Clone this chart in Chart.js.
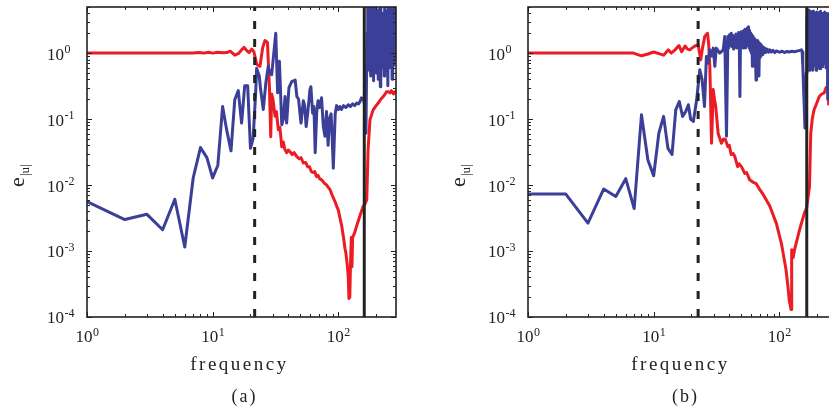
<!DOCTYPE html>
<html>
<head>
<meta charset="utf-8">
<script src="https://cdn.jsdelivr.net/npm/chart.js@4.4.1/dist/chart.umd.min.js"></script>
<style>
  html, body { margin: 0; padding: 0; background: #fff; overflow: hidden; }
  .panel { position: absolute; top: 0; width: 441px; height: 412px; }
</style>
</head>
<body>
<div class="panel" style="left:0"><canvas id="chartA" width="441" height="412"></canvas></div>
<div class="panel" style="left:441px"><canvas id="chartB" width="441" height="412"></canvas></div>
<script>
// axis limits and decade ticks
const xMin = 1, xMax = 288;
const yMin = 1e-4, yMax = 5;
const xDecades = [1, 10, 100];
const yDecades = [1e-4, 1e-3, 1e-2, 1e-1, 1];

// vertical marker lines (frequency)
const aDash = 21.6, aSolid = 161;
const bDash = 22.6, bSolid = 165.5;

// panel (a) : [frequency, e]
const aRed = [
  [1, 1.0], [3, 1.0], [5, 1.0], [7, 1.0], [7.7, 1.02], [8.5, 1.0], [9.3, 1.03], [10, 1.0],
  [11, 1.03], [12, 1.01], [13, 1.02], [13.8, 1.07], [15, 0.93], [16, 0.98], [17, 1.12],
  [17.8, 1.22], [18.6, 1.1], [19.5, 1.02], [20.5, 1.15], [21.3, 1.05], [22.4, 0.68],
  [23.8, 0.63], [25, 1.2], [26.1, 1.55], [27.3, 1.45], [28.3, 0.31], [29, 0.054],
  [29.5, 0.24], [30.2, 0.2], [31.4, 0.11], [32.2, 0.13], [33.3, 0.069], [34.3, 0.075],
  [35.5, 0.038], [36.5, 0.045], [37.5, 0.035], [38.8, 0.031], [40, 0.034], [41.3, 0.032],
  [43, 0.029], [44.5, 0.031], [46.8, 0.027], [49, 0.025], [50.5, 0.026], [52.7, 0.0216],
  [55, 0.022], [57, 0.019], [59, 0.019], [61, 0.016], [63, 0.0155], [65, 0.016],
  [67, 0.0135], [69, 0.014], [71, 0.0125], [73.7, 0.012], [76, 0.0112], [78, 0.0105],
  [80, 0.0102], [83, 0.0093], [86, 0.0085], [89, 0.0072], [92, 0.0062], [95, 0.0054],
  [97, 0.0048], [100, 0.0042], [103, 0.0032], [106.5, 0.0024], [110, 0.0016], [113, 0.0011],
  [115, 0.00093], [118, 0.0006], [120, 0.00041], [121.6, 0.00019], [123.5, 0.0002],
  [125, 0.0006], [127, 0.0016], [128.5, 0.00058], [130, 0.0016], [135, 0.0019],
  [140, 0.0024], [148.5, 0.0034], [158, 0.0048], [162, 0.005], [168.5, 0.006],
  [172.6, 0.034], [178.7, 0.098], [189.5, 0.138], [200, 0.16], [208, 0.175], [218, 0.2],
  [228, 0.22], [238, 0.245], [242, 0.26], [250, 0.26], [258, 0.25], [265, 0.27],
  [275, 0.24], [282, 0.26], [288, 0.25]
];
const aBlue = [
  [1, 0.0056], [2, 0.0030], [3, 0.0036], [4, 0.0021], [5, 0.0061], [6, 0.00115],
  [7, 0.0128], [8, 0.037], [9, 0.026], [10, 0.0128], [11, 0.020], [12, 0.155],
  [13, 0.065], [14, 0.033], [15, 0.196], [16, 0.27], [17, 0.087], [18, 0.32], [19, 0.32],
  [20, 0.036], [21, 0.051], [22, 0.25], [22.4, 0.59], [23.5, 0.45], [24, 0.3],
  [25.3, 0.14], [26.5, 0.35], [27.7, 0.63], [28.5, 0.5], [29.5, 0.47], [30.4, 0.84],
  [31.8, 2.0], [32.9, 0.25], [34, 0.75], [35.5, 0.082], [36.5, 0.1], [37.7, 0.22],
  [38.8, 0.087], [40.5, 0.3], [42.6, 0.37], [45.4, 0.39], [46.8, 0.22], [48.3, 0.2],
  [50.5, 0.087], [52.7, 0.19], [54, 0.16], [55.5, 0.077], [57.5, 0.14], [59.5, 0.28],
  [60.5, 0.31], [62.5, 0.123], [64, 0.155], [65.5, 0.031], [67.3, 0.123], [69, 0.19],
  [71, 0.15], [73.6, 0.21], [76, 0.077], [78.3, 0.055], [80.6, 0.13], [83, 0.04],
  [85, 0.1], [87.6, 0.12], [89.5, 0.05], [91.3, 0.018], [94.5, 0.12], [97, 0.16],
  [100, 0.14], [103, 0.155], [106, 0.14], [110, 0.16], [115, 0.15], [120, 0.165],
  [125, 0.155], [130, 0.17], [135, 0.16], [140, 0.175], [145, 0.17], [150, 0.19],
  [153, 0.21], [157, 0.2], [160, 0.19], [163, 0.15], [166, 0.061], [168, 0.5],
  [170, 2.0], [171.5, 6], [173, 0.9], [174.5, 4.5], [176, 0.55], [177.5, 3.2],
  [179, 0.75], [180.5, 6], [182, 0.45], [183.5, 2.6], [185, 0.9], [186.5, 5.5],
  [188, 0.6], [189.5, 3.0], [191, 0.38], [192.5, 4.2], [194, 1.0], [195.5, 2.4],
  [197, 0.7], [198.5, 6], [200, 0.5], [202, 3.5], [204, 0.85], [206, 2.8], [208, 0.4],
  [210, 4.6], [212, 0.75], [214, 3.1], [216, 0.31], [218, 5.5], [220, 0.9], [222, 2.5],
  [224, 0.6], [226, 4.0], [228, 1.1], [230, 2.9], [232, 0.45], [234, 6], [236, 0.8],
  [238, 3.3], [240, 0.55], [242, 4.4], [244, 1.0], [246, 2.7], [248, 0.32], [250, 5.2],
  [252, 0.85], [254, 3.6], [256, 0.6], [258, 4.8], [260, 1.2], [262, 2.6], [264, 0.7],
  [266, 5.5], [268, 0.4], [270, 3.0], [272, 0.95], [274, 4.3], [276, 0.65], [278, 2.8],
  [280, 1.3], [282, 5.0], [284, 0.8], [286, 3.4], [288, 1.6]
];

// panel (b) : [frequency, e]
const bRed = [
  [1, 1.0], [3, 1.0], [5, 1.0], [6.9, 1.0], [8, 0.91], [9, 0.97], [10, 1.04], [11, 0.98],
  [12, 0.93], [13.1, 1.12], [13.8, 1.0], [14.8, 1.12], [15.9, 1.3], [16.7, 1.05],
  [17.8, 1.28], [18.6, 1.15], [19.4, 1.12], [20.3, 1.2], [21.3, 1.28], [22.6, 1.33],
  [23.7, 0.79], [24.5, 1.2], [25.5, 1.79], [26.8, 2.0], [27.4, 1.4], [28, 0.63],
  [28.9, 0.043], [29.8, 0.28], [30.5, 0.2], [31.2, 0.155], [32.6, 0.061], [34.6, 0.043],
  [36, 0.05], [37.2, 0.049], [39, 0.038], [40, 0.04], [41.4, 0.029], [43, 0.03],
  [44.3, 0.027], [46.6, 0.019], [48, 0.021], [50, 0.019], [53.1, 0.015], [55, 0.0155],
  [58.1, 0.012], [62, 0.011], [65.6, 0.0105], [70, 0.0085], [74.4, 0.0072], [84, 0.0048],
  [94.9, 0.0026], [104, 0.0013], [113, 0.00053], [117, 0.0003], [120, 0.00018],
  [124, 0.00013], [125, 0.0003], [126, 0.00105], [129, 0.0008], [133, 0.0011],
  [145, 0.0021], [158, 0.0037], [165, 0.0045], [174, 0.0095], [178, 0.061], [183, 0.1],
  [189, 0.138], [200, 0.18], [208, 0.22], [218, 0.24], [228, 0.25], [236, 0.3],
  [242, 0.28], [245, 0.4], [247, 0.17], [250, 0.3], [260, 0.3], [288, 0.3]
];
const bBlue = [
  [1, 0.0073], [2, 0.0073], [3, 0.00265], [4, 0.0087], [5, 0.0067], [6, 0.0125],
  [7, 0.0044], [8, 0.116], [9, 0.024], [10, 0.0138], [11, 0.061], [12, 0.11],
  [13, 0.036], [14, 0.029], [15, 0.138], [16, 0.185], [17, 0.11], [18, 0.13],
  [18.9, 0.165], [19.7, 0.1], [20.7, 0.092], [22, 0.196], [23.3, 0.56], [24.3, 0.4],
  [25.4, 0.155], [26.3, 0.89], [27, 0.7], [28, 1.12], [29, 0.9], [29.8, 1.19],
  [30.7, 0.63], [31.5, 1.19], [33.6, 1.0], [35.8, 1.12], [36.8, 1.78], [38, 0.055],
  [39, 1.78], [39.6, 1.2], [40.2, 1.9], [40.8, 1.3], [41.5, 2.0], [42.1, 1.25],
  [42.7, 1.85], [43.3, 1.15], [43.9, 1.7], [44.5, 1.3], [45.1, 1.95], [45.7, 1.2],
  [46.3, 1.8], [46.9, 1.35], [47.5, 2.05], [48.1, 1.1], [48.6, 0.22], [49.1, 1.4],
  [49.7, 2.1], [50.3, 1.3], [50.9, 2.0], [51.5, 1.2], [52.1, 2.2], [52.7, 1.4],
  [53.3, 2.3], [53.9, 1.2], [54.5, 2.1], [55.1, 1.5], [55.7, 2.4], [56.3, 1.3],
  [56.9, 2.5], [57.5, 1.2], [58.1, 2.2], [58.7, 1.1], [59.3, 2.0], [59.9, 1.0],
  [60.5, 1.9], [61.1, 0.63], [61.7, 1.8], [62.3, 0.9], [62.9, 1.7], [63.5, 1.0],
  [64.1, 1.6], [64.7, 0.8], [65.3, 0.39], [65.9, 1.5], [66.5, 0.9], [67.1, 1.55],
  [67.7, 0.8], [68.3, 1.45], [68.9, 0.45], [69.5, 1.4], [70.1, 0.85], [70.7, 1.35],
  [71.5, 0.9], [72.3, 1.3], [73.1, 0.95], [74, 1.25], [75, 1.0], [76.5, 1.2],
  [78, 1.02], [80, 1.15], [82, 1.03], [84, 1.12], [86.5, 1.04], [89, 1.1], [92, 1.02],
  [95, 1.08], [100, 1.03], [105, 1.07], [110, 1.02], [115, 1.06], [120, 1.04],
  [126, 1.07], [132, 1.05], [140, 1.08], [146, 1.1], [150, 1.12], [152, 1.05],
  [154, 0.63], [156, 0.3], [158, 0.155], [160, 0.073], [162, 0.2], [164, 0.5],
  [166, 3.0], [168, 4.6], [169.5, 0.7], [171, 4.5], [172.5, 0.55], [174, 4.4],
  [175.5, 0.9], [177, 3.5], [178.5, 0.6], [180, 4.2], [181.5, 1.0], [183, 3.0],
  [184.5, 0.55], [186, 4.3], [187.5, 0.8], [189, 4.0], [190.5, 0.65], [192, 3.9],
  [193.5, 1.1], [195, 2.8], [196.5, 0.55], [198, 4.2], [199.5, 0.85], [201, 3.8],
  [203, 0.6], [205, 4.1], [207, 1.0], [209, 3.1], [211, 0.58], [213, 4.3], [215, 0.9],
  [217, 3.4], [219, 0.62], [221, 4.0], [223, 1.1], [225, 3.0], [227, 0.7], [229, 4.2],
  [231, 1.0], [233, 3.6], [235, 0.6], [237, 4.0], [239, 1.2], [241, 2.9], [243, 0.2],
  [245, 3.8], [247, 1.0], [249, 4.0], [252, 0.8], [256, 3.5], [260, 1.0], [265, 4.0],
  [270, 0.9], [275, 3.2], [280, 1.1], [288, 3.0]
];

const RED = '#ec1c24';
const BLUE = '#3b3f97';
const INK = '#222';
const SERIF = '"Liberation Serif", "DejaVu Serif", serif';

function mantissa(v) {
  const p = Math.floor(Math.log10(v) + 1e-9);
  return v / Math.pow(10, p);
}
function isNice(v) {
  const m = mantissa(v);
  return Math.abs(m - Math.round(m)) < 1e-6;
}
function isDecade(v) {
  return Math.abs(mantissa(v) - 1) < 1e-6;
}

// axis box, inward ticks, power-of-ten labels, titles
const frame = {
  id: 'frame',
  afterDatasetsDraw(chart, args, opts) {
    const { ctx, chartArea: a, scales: { x, y } } = chart;
    ctx.save();
    ctx.strokeStyle = INK;
    ctx.lineWidth = 1;
    ctx.beginPath();
    x.ticks.forEach(t => {
      if (!isNice(t.value)) return;
      const px = Math.round(x.getPixelForValue(t.value)) + 0.5;
      const len = isDecade(t.value) ? 5 : 3;
      ctx.moveTo(px, a.bottom); ctx.lineTo(px, a.bottom - len);
      ctx.moveTo(px, a.top); ctx.lineTo(px, a.top + len);
    });
    y.ticks.forEach(t => {
      if (!isNice(t.value)) return;
      const py = Math.round(y.getPixelForValue(t.value)) + 0.5;
      const len = isDecade(t.value) ? 5 : 3;
      ctx.moveTo(a.left, py); ctx.lineTo(a.left + len, py);
      ctx.moveTo(a.right, py); ctx.lineTo(a.right - len, py);
    });
    ctx.stroke();
    ctx.lineWidth = 1.6;
    ctx.strokeRect(a.left, a.top, a.right - a.left, a.bottom - a.top);

    ctx.fillStyle = INK;
    ctx.textBaseline = 'middle';
    ctx.textAlign = 'left';
    const big = '17px ' + SERIF;
    const small = '12px ' + SERIF;

    xDecades.forEach(v => {
      const px = x.getPixelForValue(v);
      const e = String(Math.round(Math.log10(v)));
      ctx.font = big; const w1 = ctx.measureText('10').width;
      ctx.font = small; const w2 = ctx.measureText(e).width;
      const x0 = px - (w1 + w2) / 2;
      ctx.font = big;
      ctx.fillText('10', x0, a.bottom + 21);
      ctx.font = small;
      ctx.fillText(e, x0 + w1 + 0.5, a.bottom + 16);
    });
    yDecades.forEach(v => {
      const py = y.getPixelForValue(v);
      const e = String(Math.round(Math.log10(v)));
      ctx.font = big;
      const w1 = ctx.measureText('10').width;
      ctx.fillText('10', 47, py + 2);
      ctx.font = small;
      ctx.fillText(e, 47 + w1 + 0.5, py - 3);
    });

    // y title: e with subscript |u|
    ctx.save();
    ctx.translate(19, 182);
    ctx.rotate(-Math.PI / 2);
    ctx.textBaseline = 'alphabetic';
    ctx.font = '22px ' + SERIF;
    const we = ctx.measureText('e').width;
    ctx.fillText('e', -we / 2, 5);
    ctx.font = '13px ' + SERIF;
    ctx.fillText('|u|', we / 2 + 1, 10);
    ctx.restore();

    // x title and caption
    ctx.textAlign = 'center';
    ctx.textBaseline = 'alphabetic';
    ctx.font = '19px ' + SERIF;
    ctx.letterSpacing = '2.5px';
    ctx.fillText('frequency', (a.left + a.right) / 2 - 2, 370);
    ctx.font = '18px ' + SERIF;
    ctx.letterSpacing = '2px';
    ctx.fillText(opts.caption, (a.left + a.right) / 2 + 3, 402);
    ctx.restore();
  }
};

function toPoints(pairs) {
  return pairs.map(p => ({ x: p[0], y: p[1] }));
}

function makeChart(id, red, blue, dashF, solidF, caption) {
  const ctx = document.getElementById(id).getContext('2d');
  return new Chart(ctx, {
    type: 'scatter',
    data: {
      datasets: [
        {
          data: [{ x: dashF, y: yMin }, { x: dashF, y: yMax }],
          borderColor: INK, borderWidth: 3, borderDash: [8, 10], borderCapStyle: 'butt'
        },
        {
          data: [{ x: solidF, y: yMin }, { x: solidF, y: yMax }],
          borderColor: INK, borderWidth: 3
        },
        { data: toPoints(blue), borderColor: BLUE, borderWidth: 3 },
        { data: toPoints(red), borderColor: RED, borderWidth: 3 }
      ].map(d => Object.assign(d, {
        showLine: true, pointRadius: 0, tension: 0, clip: 0,
        borderJoinStyle: 'round'
      }))
    },
    options: {
      responsive: false,
      animation: false,
      devicePixelRatio: 1,
      events: [],
      layout: { padding: { left: 0, right: 45, top: 7, bottom: 0 } },
      plugins: {
        legend: { display: false },
        tooltip: { enabled: false },
        frame: { caption: caption }
      },
      scales: {
        x: {
          type: 'logarithmic', min: xMin, max: xMax,
          ticks: { display: false }, grid: { display: false }, border: { display: false },
          afterFit: s => { s.height = 95; }
        },
        y: {
          type: 'logarithmic', min: yMin, max: yMax,
          ticks: { display: false }, grid: { display: false }, border: { display: false },
          afterFit: s => { s.width = 87; }
        }
      }
    },
    plugins: [frame]
  });
}

makeChart('chartA', aRed, aBlue, aDash, aSolid, '(a)');
makeChart('chartB', bRed, bBlue, bDash, bSolid, '(b)');
</script>
</body>
</html>
